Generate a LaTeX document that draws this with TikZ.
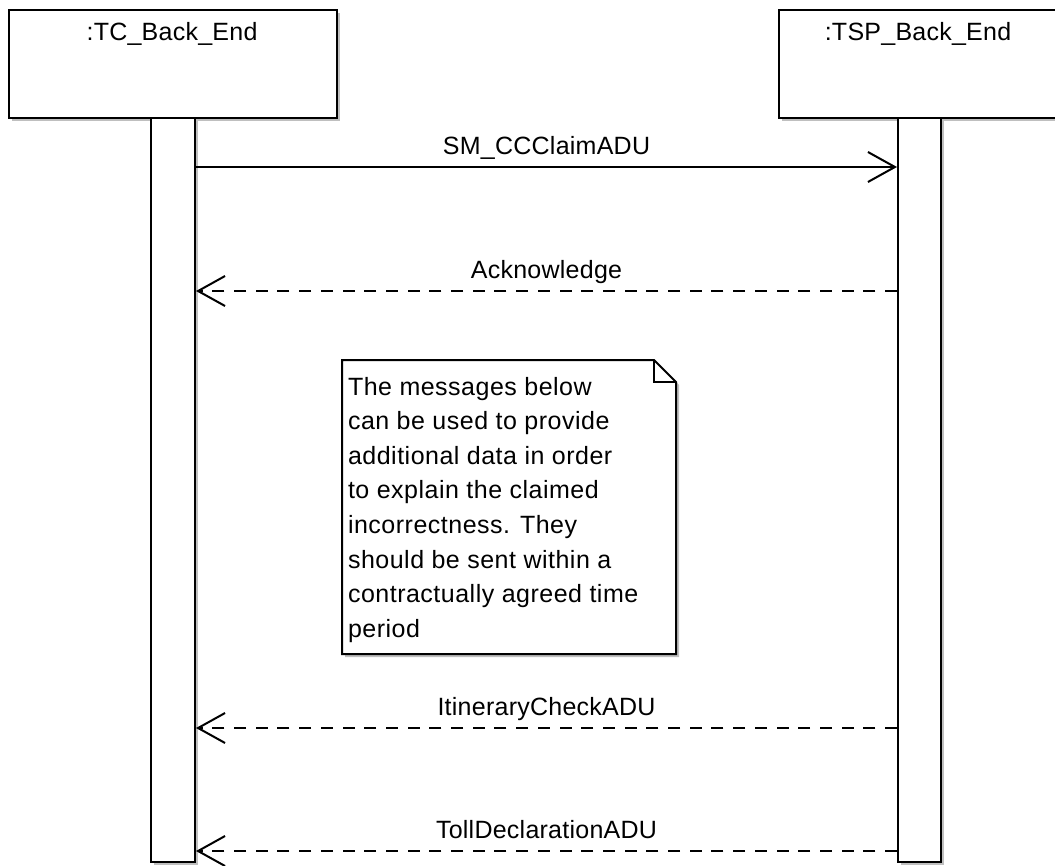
\documentclass[tikz,border=0pt]{standalone}
\usepackage{fontspec}
\setmainfont{Liberation Sans}[LetterSpace=1]
\usetikzlibrary{arrows.meta,shadows,calc}
\begin{document}
\begin{tikzpicture}[x=1pt,y=-1pt,
  line width=2pt,
  shadowed/.style={drop shadow={shadow xshift=3pt, shadow yshift=-3pt, fill=black!25, opacity=1}},
  box/.style={draw, fill=white, rectangle, inner sep=0pt, shadowed},
  txt/.style={font=\fontsize{25}{34.6}\selectfont, inner sep=0pt},
  call/.style={draw, -{Straight Barb[length=27pt,width=30pt]}},
  reply/.style={call, dash pattern=on 12pt off 9.7pt},
]
\useasboundingbox (0,0) rectangle (1055,865);

% lifeline heads
\node[box, minimum width=328pt, minimum height=108pt] (tc) at (173,64) {};
\node[txt, anchor=base] (tcname) at (172,40) {:TC\_Back\_End};
\node[box, minimum width=282pt, minimum height=108pt] (tsp) at (920,64) {};
\node[txt, anchor=base] (tspname) at (918,40) {:TSP\_Back\_End};

% activation bars
\node[box, minimum width=44pt, minimum height=744pt] (tcbar) at (173,490) {};
\node[box, minimum width=43pt, minimum height=744pt] (tspbar) at (919.5,490) {};

% message heights
\coordinate (y1) at (0,167);
\coordinate (y2) at (0,291);
\coordinate (y3) at (0,728);
\coordinate (y4) at (0,851);

\draw[call] (tcbar.east |- y1) -- node[txt, anchor=base, yshift=13pt] (m1) {SM\_CCClaimADU} (tspbar.west |- y1);
\draw[reply] (tspbar.west |- y2) -- node[txt, anchor=base, yshift=13pt] (m2) {Acknowledge} (tcbar.east |- y2);
\draw[reply] (tspbar.west |- y3) -- node[txt, anchor=base, yshift=13pt] (m3) {ItineraryCheckADU} (tcbar.east |- y3);
\draw[reply] (tspbar.west |- y4) -- node[txt, anchor=base, yshift=13pt] (m4) {TollDeclarationADU} (tcbar.east |- y4);

% note with folded corner
\node[inner sep=0pt, minimum width=332pt, minimum height=292pt, anchor=north west] (note) at (342,360) {};
\draw[fill=white, shadowed] (note.north west) -- ($(note.north east)+(-22,0)$) -- ($(note.north east)+(0,22)$)
  -- (note.south east) -- (note.south west) -- cycle;
\draw ($(note.north east)+(-22,0)$) -- ($(note.north east)+(-22,22)$) -- ($(note.north east)+(0,22)$);
\node[txt, anchor=north west, align=left, font=\fontsize{25}{34.6}\selectfont\addfontfeature{LetterSpace=2}] (notetext) at (347,376) {The messages below\\can be used to provide\\additional data in order\\to explain the claimed\\incorrectness. They\\should be sent within a\\contractually agreed time\\period};
\end{tikzpicture}
\end{document}
